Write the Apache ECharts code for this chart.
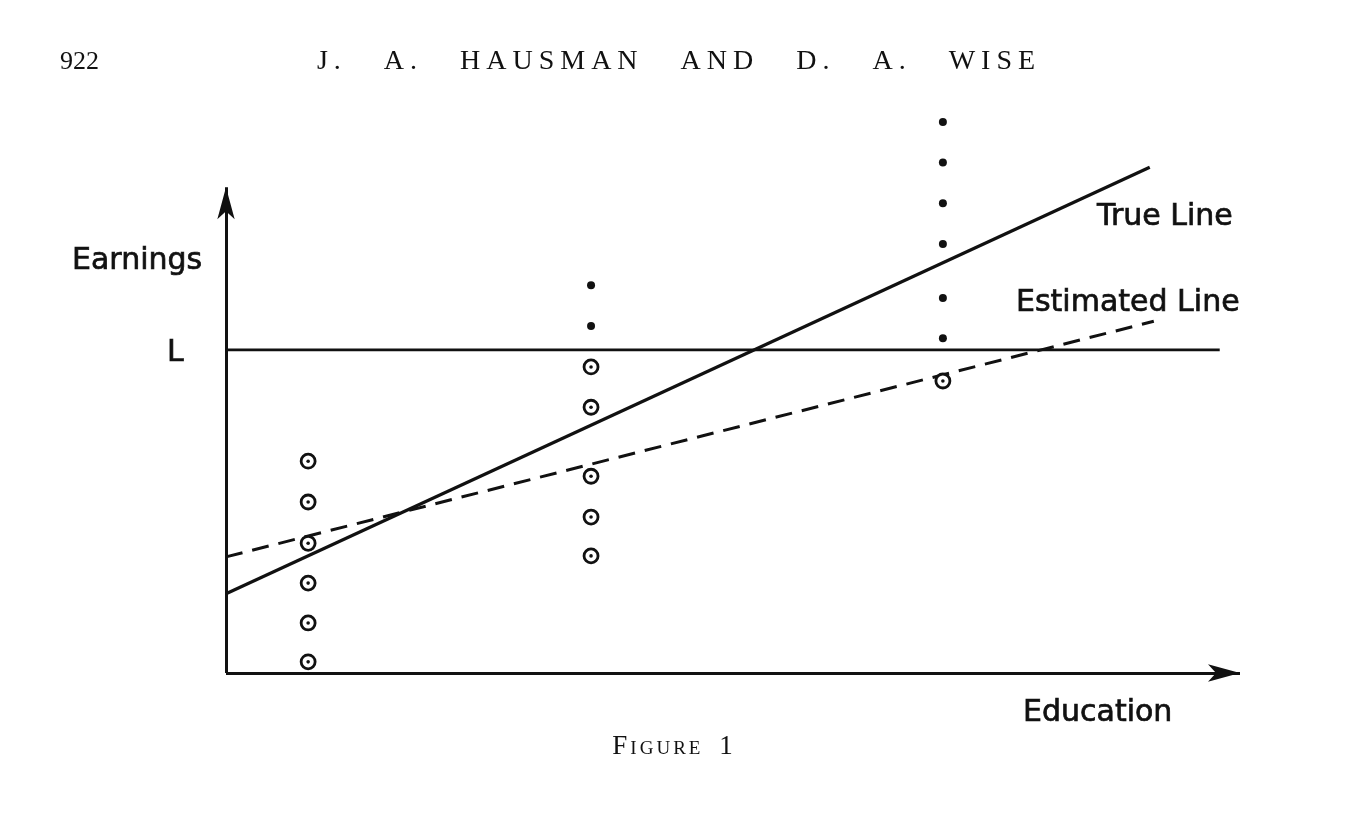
<!DOCTYPE html>
<html>
<head>
<meta charset="utf-8">
<script src="https://cdn.jsdelivr.net/npm/echarts@6/dist/echarts.min.js"></script>
<style>
html,body{margin:0;padding:0;background:#fff;}
#chart{width:1351px;height:816px;}
</style>
</head>
<body>
<div id="chart"></div>
<script>
// ---- data (arbitrary units) ----
const trueLine = [[0, 1.63], [9.11, 10.41]];
const estimatedLine = [[0, 2.39], [9.15, 7.24]];
const lLine = [[0, 6.65], [9.80, 6.65]];
const openCircles = [
  [0.81, 4.36], [0.81, 3.52], [0.81, 2.67], [0.81, 1.85], [0.81, 1.03], [0.81, 0.23],
  [3.60, 6.30], [3.60, 5.47], [3.60, 4.05], [3.60, 3.21], [3.60, 2.41],
  [7.07, 6.01]
];
const filledDots = [
  [3.60, 7.98], [3.60, 7.14],
  [7.07, 11.34], [7.07, 10.51], [7.07, 9.67], [7.07, 8.83], [7.07, 7.72], [7.07, 6.89]
];
const yAxisEnd = [0, 10.0];
const xAxisEnd = [10, 0];
const labels = {
  yName: 'Earnings', xName: 'Education', lName: 'L',
  trueName: 'True Line', estName: 'Estimated Line',
  page: '922', header: 'J. A. HAUSMAN AND D. A. WISE', caption: 'Figure 1'
};

// letter-spaced / small-caps typesetting for the running head and caption
const typeRules = {};
typeRules[labels.header] = { letterSpacing: '6px', wordSpacing: '24px', caps: 'normal' };
typeRules[labels.caption] = { letterSpacing: '3px', wordSpacing: '6px', caps: 'small-caps' };
(function () {
  const proto = CanvasRenderingContext2D.prototype;
  ['fillText', 'strokeText'].forEach(function (fn) {
    const orig = proto[fn];
    proto[fn] = function (t, x, y, w) {
      const r = typeRules[t];
      if (!r) {
        return w === undefined ? orig.call(this, t, x, y) : orig.call(this, t, x, y, w);
      }
      const saved = [this.letterSpacing, this.wordSpacing, this.fontVariantCaps];
      this.letterSpacing = r.letterSpacing;
      this.wordSpacing = r.wordSpacing;
      this.fontVariantCaps = r.caps;
      orig.call(this, t, x, y);
      this.letterSpacing = saved[0];
      this.wordSpacing = saved[1];
      this.fontVariantCaps = saved[2];
    };
  });
})();

const ink = '#111';
const chart = echarts.init(document.getElementById('chart'));
const labelFont = { fontFamily: 'DejaVu Sans', fontSize: 30, fill: ink, stroke: ink, lineWidth: 0.7, verticalAlign: 'middle' };

chart.setOption({
  backgroundColor: '#fff',
  animation: false,
  grid: { left: 226, right: 111, top: 90, bottom: 143 },
  xAxis: { type: 'value', min: 0, max: 10, show: false },
  yAxis: { type: 'value', min: 0, max: 12, show: false },
  series: [
    {
      type: 'line', name: 'axes', data: [], silent: true,
      markLine: {
        silent: true, animation: false,
        label: { show: false },
        lineStyle: { color: ink, width: 3, type: 'solid', opacity: 1 },
        data: [
          [{ coord: [0, 0], symbol: 'none' }, { coord: yAxisEnd, symbol: 'arrow', symbolSize: [13, 32] }],
          [{ coord: [0, 0], symbol: 'none' }, { coord: xAxisEnd, symbol: 'arrow', symbolSize: [13, 32] }]
        ]
      }
    },
    { type: 'line', name: 'L', data: lLine, symbol: 'none', silent: true,
      lineStyle: { color: ink, width: 2.6 } },
    { type: 'line', name: labels.trueName, data: trueLine, symbol: 'none', silent: true,
      lineStyle: { color: ink, width: 3.2 } },
    { type: 'line', name: labels.estName, data: estimatedLine, symbol: 'none', silent: true,
      lineStyle: { color: ink, width: 3, type: [17, 10] } },
    { type: 'scatter', name: 'censored', data: openCircles, symbol: 'circle', symbolSize: 14, z: 5, clip: false,
      itemStyle: { color: '#fff', borderColor: ink, borderWidth: 2.8, opacity: 1 } },
    { type: 'scatter', name: 'censoredCenter', data: openCircles, symbol: 'circle', symbolSize: 3.6, z: 6, clip: false,
      itemStyle: { color: ink, opacity: 1 } },
    { type: 'scatter', name: 'observed', data: filledDots, symbol: 'circle', symbolSize: 8, z: 5, clip: false,
      itemStyle: { color: ink, opacity: 1 } }
  ],
  graphic: [
    { type: 'text', x: 72, y: 261, style: Object.assign({ text: labels.yName }, labelFont) },
    { type: 'text', x: 167, y: 353, style: Object.assign({ text: labels.lName }, labelFont) },
    { type: 'text', x: 1097, y: 217, style: Object.assign({ text: labels.trueName }, labelFont) },
    { type: 'text', x: 1016, y: 303, style: Object.assign({ text: labels.estName }, labelFont) },
    { type: 'text', x: 1023, y: 713, style: Object.assign({ text: labels.xName }, labelFont) },
    { type: 'text', x: 60, y: 62, style: { text: labels.page, fontFamily: 'Liberation Serif', fontSize: 26, fill: ink, verticalAlign: 'middle' } },
    { type: 'text', x: 679, y: 62, style: { text: labels.header, fontFamily: 'Liberation Serif', fontSize: 28, fill: ink, align: 'center', verticalAlign: 'middle' } },
    { type: 'text', x: 674, y: 747, style: { text: labels.caption, fontFamily: 'Liberation Serif', fontSize: 27, fill: ink, align: 'center', verticalAlign: 'middle' } }
  ]
});
</script>
</body>
</html>
